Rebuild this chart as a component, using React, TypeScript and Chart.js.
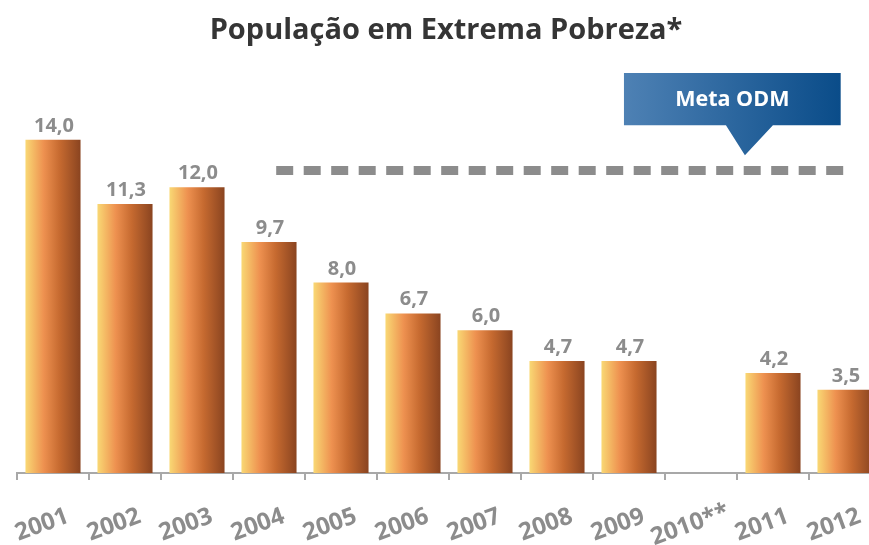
import { useEffect, useRef } from 'react';
import { Chart, registerables } from 'chart.js';

Chart.register(...registerables);

const TITLE = 'População em Extrema Pobreza*';
const YEARS = ['2001', '2002', '2003', '2004', '2005', '2006', '2007', '2008', '2009', '2010**', '2011', '2012'];
const VALUES: (number | null)[] = [14.0, 11.3, 12.0, 9.7, 8.0, 6.7, 6.0, 4.7, 4.7, null, 4.2, 3.5];
const META_ODM = 12.7;
const META_LABEL = 'Meta ODM';
const META_FROM = 3.1; // category position where the target line starts
const META_TO = 10.99; // category position where the target line ends
const Y_MAX = 16;

const FONT = "'Open Sans', 'DejaVu Sans', sans-serif";
const GRAY = '#8c8c8c';
const BAR_PCT = 0.765;

const fmt = (v: number) => v.toFixed(1).replace('.', ',');

const decoPlugin = {
  id: 'deco',
  afterDatasetsDraw(chart: any) {
    const { ctx } = chart;
    const xs = chart.scales.x;
    const ys = chart.scales.y;
    ctx.save();

    // title
    ctx.fillStyle = '#353535';
    ctx.font = `bold 29px ${FONT}`;
    ctx.textAlign = 'center';
    ctx.textBaseline = 'middle';
    ctx.fillText(TITLE, 446, 31);

    // target dashed line
    const yM = ys.getPixelForValue(META_ODM);
    ctx.strokeStyle = GRAY;
    ctx.lineWidth = 9;
    ctx.setLineDash([17, 10.5]);
    ctx.beginPath();
    ctx.moveTo(xs.getPixelForValue(META_FROM), yM);
    ctx.lineTo(xs.getPixelForValue(META_TO), yM);
    ctx.stroke();
    ctx.setLineDash([]);

    // callout
    const bl = xs.getPixelForValue(7.93);
    const br = xs.getPixelForValue(10.94);
    const bt = ys.getPixelForValue(16.8);
    const bb = ys.getPixelForValue(14.6);
    const tipX = xs.getPixelForValue(9.61);
    const tipY = ys.getPixelForValue(13.34);
    const g = ctx.createLinearGradient(bl, 0, br, 0);
    g.addColorStop(0, '#4e81b4');
    g.addColorStop(1, '#0a4c89');
    ctx.fillStyle = g;
    ctx.beginPath();
    ctx.moveTo(bl, bt);
    ctx.lineTo(br, bt);
    ctx.lineTo(br, bb);
    ctx.lineTo(tipX + 28, bb);
    ctx.lineTo(tipX, tipY);
    ctx.lineTo(tipX - 19, bb);
    ctx.lineTo(bl, bb);
    ctx.closePath();
    ctx.fill();
    ctx.fillStyle = '#ffffff';
    ctx.font = `bold 21.5px ${FONT}`;
    ctx.textAlign = 'center';
    ctx.textBaseline = 'middle';
    ctx.fillText(META_LABEL, (bl + br) / 2, (bt + bb) / 2 + 1);

    // value labels
    const meta = chart.getDatasetMeta(0);
    ctx.fillStyle = GRAY;
    ctx.font = `bold 20px ${FONT}`;
    ctx.textBaseline = 'alphabetic';
    meta.data.forEach((el: any, i: number) => {
      const v = VALUES[i];
      if (v == null) return;
      ctx.fillText(fmt(v), el.x + 1, el.y - 8);
    });

    // x labels (rotated)
    ctx.font = `bold 24px ${FONT}`;
    ctx.textBaseline = 'middle';
    const axisY = xs.top;
    YEARS.forEach((y, i) => {
      const cx = xs.getPixelForValue(i);
      ctx.save();
      ctx.translate(cx - 11, axisY + 52);
      ctx.rotate((-20 * Math.PI) / 180);
      ctx.fillText(y, 0, 0);
      ctx.restore();
    });

    ctx.restore();
  },
};

export default function App() {
  const ref = useRef<HTMLCanvasElement>(null);

  useEffect(() => {
    if (!ref.current) return;
    const chart = new Chart(ref.current, {
      type: 'bar',
      data: {
        labels: YEARS,
        datasets: [
          {
            data: VALUES,
            categoryPercentage: BAR_PCT,
            barPercentage: 1,
            backgroundColor: (c: any) => {
              const xs = c.chart.scales?.x;
              if (!xs || c.dataIndex == null || !xs.width) return '#e08a45';
              const cx = xs.getPixelForValue(c.dataIndex);
              const w = (xs.width / YEARS.length) * BAR_PCT;
              const g = c.chart.ctx.createLinearGradient(cx - w / 2, 0, cx + w / 2, 0);
              g.addColorStop(0, '#f9d874');
              g.addColorStop(0.33, '#ee9150');
              g.addColorStop(0.62, '#c66a30');
              g.addColorStop(1, '#8a4420');
              return g;
            },
            borderWidth: 0,
          },
        ],
      },
      options: {
        responsive: false,
        animation: false,
        devicePixelRatio: 1,
        layout: { padding: { left: 17, right: 3, top: 92, bottom: 65 } },
        plugins: { legend: { display: false }, tooltip: { enabled: false }, title: { display: false } },
        scales: {
          x: {
            grid: {
              display: true,
              drawOnChartArea: false,
              drawTicks: true,
              tickLength: 7,
              color: '#a8a8a8',
              lineWidth: 2,
              offset: true,
            },
            border: { display: true, color: '#a8a8a8', width: 2 },
            ticks: { display: false },
          },
          y: { display: false, min: 0, max: Y_MAX },
        },
      },
      plugins: [decoPlugin],
    });
    return () => chart.destroy();
  }, []);

  return (
    <div
      style={{
        position: 'absolute',
        left: 0,
        top: 0,
        width: 869,
        height: 545,
        overflow: 'hidden',
        background: '#ffffff',
      }}
    >
      <canvas ref={ref} width={884} height={545} style={{ display: 'block' }} />
    </div>
  );
}
